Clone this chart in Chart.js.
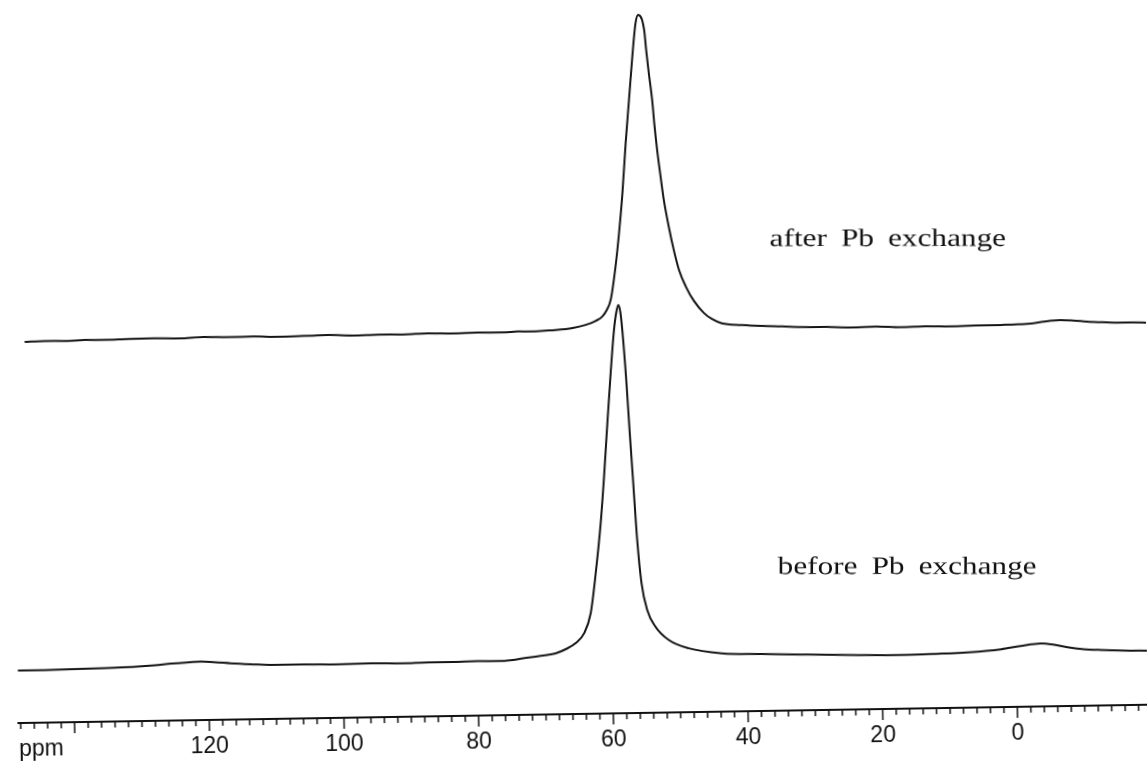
<!DOCTYPE html>
<html>
<head>
<meta charset="utf-8">
<title>NMR spectra before / after Pb exchange</title>
<script src="https://cdn.jsdelivr.net/npm/chart.js@4.4.0/dist/chart.umd.min.js"></script>
<style>
  body { margin: 0; background: #fff; overflow: hidden; }
  /* the scanned page is slightly tilted, so the whole plot is turned a little */
  #wrap { width: 1147px; height: 769px; transform: rotate(-0.93deg); }
  canvas { display: block; }
</style>
</head>
<body>
<div id="wrap"><canvas id="spectrum" width="1147" height="769"></canvas></div>

<script>
// chemical shift (ppm) and intensity (arb. units)
var afterPpm = [146.5, 143.6, 140.6, 137.5, 134.7, 131.0, 127.3, 123.5, 119.9, 116.2, 112.5, 108.8, 105.1, 101.4, 97.7, 94.0, 90.3, 86.6, 82.9, 79.2, 75.5, 73.2, 71.1, 69.3, 67.7, 65.1, 63.2, 61.7, 60.7, 60.0, 59.4, 58.6, 58.0, 57.4, 56.8, 56.2, 55.6, 55.05, 54.63, 53.78, 53.53, 53.19, 52.76, 52.48, 52.14, 51.72, 51.27, 50.6, 49.91, 49.18, 48.18, 47.04, 45.59, 44.42, 42.95, 40.0, 37.0, 34.0, 31.1, 27.4, 23.7, 20.0, 16.4, 12.7, 9.0, 5.2, 1.6, -1.0, -3.3, -5.8, -7.3, -9.3, -11.3, -13.5, -15.8, -18.0, -20.2];
var afterInt = [381.0, 381.6, 381.3, 381.9, 381.7, 382.3, 382.4, 382.0, 383.0, 382.5, 382.7, 382.0, 382.4, 382.9, 382.1, 382.6, 382.3, 383.0, 382.5, 382.9, 382.7, 383.4, 383.2, 383.8, 384.3, 386.1, 388.9, 392.7, 396.9, 403.5, 413.4, 446.7, 480.0, 519.9, 569.9, 613.1, 656.4, 689.7, 698.0, 682.9, 662.9, 639.5, 612.8, 587.7, 562.7, 537.6, 512.6, 485.8, 462.4, 442.3, 425.2, 411.1, 398.9, 392.8, 388.3, 386.3, 385.0, 384.2, 383.3, 382.9, 382.0, 382.4, 381.4, 381.9, 381.4, 381.9, 382.1, 382.4, 383.3, 385.6, 386.1, 385.3, 384.0, 383.2, 382.5, 382.6, 382.0];

var beforePpm = [148.3, 144.3, 140.3, 135.4, 130.6, 128.0, 125.5, 123.3, 121.1, 118.9, 116.7, 113.7, 110.7, 105.9, 101.0, 96.0, 91.1, 87.4, 83.7, 80.0, 76.3, 74.8, 73.3, 70.9, 68.4, 66.9, 65.45, 64.14, 63.12, 62.28, 61.42, 60.81, 60.19, 59.58, 58.98, 58.59, 58.28, 58.0, 57.75, 57.28, 56.91, 56.49, 56.04, 55.5, 54.72, 53.54, 51.59, 48.65, 43.74, 38.0, 31.9, 24.5, 17.1, 12.0, 7.2, 2.3, -0.6, -3.6, -5.8, -7.6, -10.0, -12.5, -16.0, -19.4];
var beforeInt = [52.4, 52.5, 52.9, 53.6, 54.4, 55.4, 56.9, 57.8, 58.4, 57.6, 56.3, 55.0, 54.0, 54.1, 53.6, 53.9, 53.5, 54.1, 54.0, 54.4, 54.2, 55.0, 56.6, 58.4, 61.0, 65.0, 70.7, 80.6, 100.5, 140.4, 190.3, 236.8, 290.2, 340.1, 383.4, 401.3, 408.3, 401.3, 383.3, 333.2, 283.1, 229.8, 173.0, 129.6, 102.8, 86.0, 72.5, 63.9, 58.3, 56.9, 55.8, 54.6, 53.7, 54.3, 55.3, 57.8, 60.8, 63.1, 61.2, 58.7, 56.6, 55.5, 54.5, 54.0];

var tickValues = [145, 120, 100, 80, 60, 40, 20, 0];
var tickLabels = ['ppm', '120', '100', '80', '60', '40', '20', '0'];
var traceNames = ['after Pb exchange', 'before Pb exchange'];

function toPoints(xs, ys) {
    return xs.map(function(x, i) { return {x: x, y: ys[i]}; });
}

// small tick marks every 2 ppm, longer ones every 20 ppm
var axisTicks = {
    id: 'axisTicks',
    afterDraw: function(chart) {
        var sx = chart.scales.x;
        var ctx = chart.ctx;
        var y0 = chart.chartArea.bottom + 1;
        ctx.save();
        ctx.strokeStyle = '#111';
        ctx.lineWidth = 1.5;
        for (var v = -18; v <= 148; v += 2) {
            var px = sx.getPixelForValue(v);
            var len = (v % 20 === 0) ? 10 : 5;
            ctx.beginPath();
            ctx.moveTo(px, y0);
            ctx.lineTo(px, y0 + len);
            ctx.stroke();
        }
        ctx.restore();
    }
};

// the two typed labels; the page tilt is undone so they sit level
var traceLabels = {
    id: 'traceLabels',
    afterDraw: function(chart, args, opts) {
        var ctx = chart.ctx;
        ctx.save();
        ctx.font = '25px "Liberation Serif", "Times New Roman", serif';
        ctx.fillStyle = '#111';
        ctx.textBaseline = 'alphabetic';
        if ('wordSpacing' in ctx) ctx.wordSpacing = '5px';
        opts.at.forEach(function(p, i) {
            ctx.save();
            ctx.translate(chart.scales.x.getPixelForValue(p[0]), chart.scales.y.getPixelForValue(p[1]));
            ctx.rotate(0.0162);
            ctx.scale(1.25, 1);
            ctx.fillText(traceNames[i], 0, 0);
            ctx.restore();
        });
        ctx.restore();
    }
};

var config = {
    type: 'line',
    data: {
        datasets: [{
            label: traceNames[0],
            data: toPoints(afterPpm, afterInt),
            borderColor: '#151515',
            borderWidth: 2,
            cubicInterpolationMode: 'monotone',
            pointRadius: 0,
            fill: false
        }, {
            label: traceNames[1],
            data: toPoints(beforePpm, beforeInt),
            borderColor: '#151515',
            borderWidth: 2,
            cubicInterpolationMode: 'monotone',
            pointRadius: 0,
            fill: false
        }]
    },
    options: {
        responsive: false,
        animation: false,
        layout: { padding: { left: 8, right: 0, top: 0, bottom: 0 } },
        plugins: {
            legend: { display: false },
            tooltip: { enabled: false },
            traceLabels: { at: [[35.67, 464.8], [35.27, 136.7]] }
        },
        scales: {
            x: {
                type: 'linear',
                reverse: true,
                min: -20.03,
                max: 148.36,
                afterBuildTicks: function(scale) {
                    scale.ticks = tickValues.map(function(v) { return {value: v}; });
                },
                afterFit: function(scale) { scale.height = 55; },
                grid: { display: false, drawTicks: false },
                border: { display: true, color: '#111', width: 2 },
                ticks: {
                    autoSkip: false,
                    maxRotation: 0,
                    padding: 13,
                    color: '#111',
                    font: { family: '"Liberation Sans Narrow", "Liberation Sans", Arial, sans-serif', size: 23 },
                    callback: function(value) {
                        var i = tickValues.indexOf(value);
                        return i < 0 ? '' : tickLabels[i];
                    }
                }
            },
            y: { display: false, min: 0, max: 714 }
        }
    },
    plugins: [axisTicks, traceLabels]
};

new Chart(document.getElementById('spectrum'), config);
</script>
</body>
</html>
